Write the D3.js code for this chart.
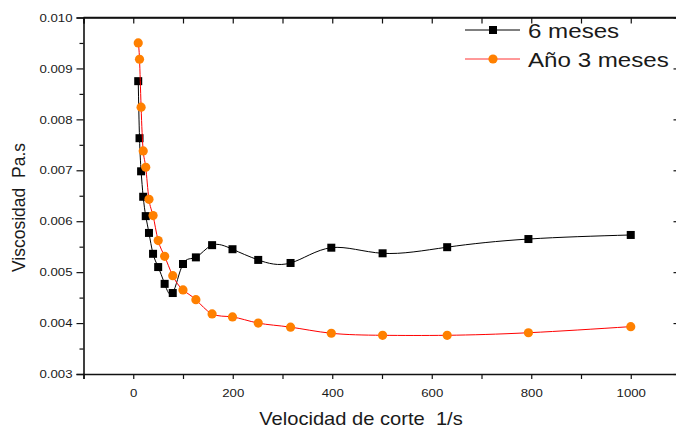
<!DOCTYPE html>
<html><head><meta charset="utf-8">
<script src="https://cdn.jsdelivr.net/npm/d3@7"></script>
<style>body{margin:0;background:#fff}svg{display:block}text{font-family:"Liberation Sans",Arial,sans-serif;fill:#1a1a1a;white-space:pre}</style>
</head><body>
<script>
const shearRate = [10,12.6,15.8,20,25.1,31.6,39.8,50.1,63.1,79.4,100,125.9,158.5,199.5,251.2,316.2,398.1,501.2,631,794.3,1000];
const seis = [0.00875,0.00763,0.00698,0.00648,0.00610,0.00577,0.00536,0.00510,0.00477,0.00459,0.00516,0.00529,0.00553,0.00545,0.00524,0.00518,0.00548,0.00537,0.00549,0.00565,0.00573];
const anio3 = [0.00950,0.00918,0.00824,0.00738,0.00706,0.00643,0.00611,0.00562,0.00531,0.00493,0.00465,0.00446,0.00418,0.00412,0.00400,0.00392,0.00380,0.00376,0.00376,0.00381,0.00393];
const seriesNames = ["6 meses","Año 3 meses"];
const xTickLabels = [0,200,400,600,800,1000];
const xTicks = [-100,0,100,200,300,400,500,600,700,800,900,1000,1100];
const yTickLabels = [0.003,0.004,0.005,0.006,0.007,0.008,0.009,0.010];
const yMinorTicks = [0.0035,0.0045,0.0055,0.0065,0.0075,0.0085,0.0095];
const xTitle = "Velocidad de corte  1/s";
const yTitle = "Viscosidad  Pa.s";

const W=676,H=428, SX=1.15;
const L=83.5, R=680.5, T=17.5, B=374;
const svg=d3.select("body").append("svg").attr("width",W).attr("height",H);
const x=d3.scaleLinear().domain([-100,1100]).range([L,R]);
const y=d3.scaleLinear().domain([0.003,0.010]).range([B,T]);

function stretchTick(sel){
  sel.selectAll("text").each(function(){
    const t=d3.select(this); const tx=+t.attr("x")||0;
    t.attr("transform",`translate(${tx},0) scale(${SX},1) translate(${-tx},0)`);
  });
}
const fmtY=d3.format(".3f");
// left axis
const gl=svg.append("g").attr("transform",`translate(${L},0)`)
  .call(d3.axisLeft(y).tickValues(yTickLabels).tickSize(7).tickPadding(4).tickFormat(fmtY));
gl.call(g=>g.selectAll("text").attr("font-size",11.5).attr("font-family","Liberation Sans").style("fill","#1a1a1a"));
stretchTick(gl);
svg.append("g").attr("transform",`translate(${L},0)`)
  .call(d3.axisLeft(y).tickValues(yMinorTicks).tickSize(4).tickFormat(""))
  .call(g=>g.select(".domain").remove());
// right axis
svg.append("g").attr("transform",`translate(${R},0)`)
  .call(d3.axisLeft(y).tickValues(yTickLabels).tickSize(7).tickFormat(""))
  .call(g=>g.select(".domain").remove());
// bottom axis
const gb=svg.append("g").attr("transform",`translate(0,${B})`)
  .call(d3.axisBottom(x).tickValues(xTicks).tickSize(5).tickPadding(10)
    .tickFormat(d=>xTickLabels.includes(d)?String(d):""));
gb.selectAll("text").attr("font-size",11.5).attr("font-family","Liberation Sans").style("fill","#1a1a1a");
stretchTick(gb);
// top axis
svg.append("g").attr("transform",`translate(0,${T})`)
  .call(d3.axisBottom(x).tickValues(xTicks).tickSize(6).tickFormat(""));
svg.selectAll(".domain").attr("stroke","#111").attr("stroke-width",1.6);
svg.selectAll(".tick line").attr("stroke","#111").attr("stroke-width",1.2);
svg.append("line").attr("x1",L).attr("x2",R).attr("y1",T).attr("y2",T).attr("stroke","#111").attr("stroke-width",1.6);
svg.append("line").attr("x1",R).attr("x2",R).attr("y1",T).attr("y2",B).attr("stroke","#111").attr("stroke-width",1.6);

// titles
svg.append("text").attr("text-anchor","middle").attr("font-size",17.5)
  .attr("transform",`translate(361,425) scale(${SX},1)`).text(xTitle);
svg.append("text").attr("text-anchor","middle").attr("font-size",17.5)
  .attr("transform",`translate(25,207.5) rotate(-90)`).text(yTitle);

// lines
const d1=shearRate.map((v,i)=>[v,seis[i]]);
const d2=shearRate.map((v,i)=>[v,anio3[i]]);
const line=d3.line().x(d=>x(d[0])).y(d=>y(d[1])).curve(d3.curveNatural);
svg.append("path").datum(d1).attr("d",line).attr("fill","none").attr("stroke","#000").attr("stroke-width",1);
svg.append("g").selectAll("rect").data(d1).join("rect")
  .attr("x",d=>x(d[0])-4).attr("y",d=>y(d[1])-4).attr("width",8).attr("height",8).attr("fill","#000");
svg.append("path").datum(d2).attr("d",line).attr("fill","none").attr("stroke","#ff0000").attr("stroke-width",1);
svg.append("g").selectAll("circle").data(d2).join("circle")
  .attr("cx",d=>x(d[0])).attr("cy",d=>y(d[1])).attr("r",4.6).attr("fill","#ff8000");

// legend
const lg=svg.append("g");
[0,1].forEach(i=>{
  const yy=[30,59][i];
  lg.append("line").attr("x1",465).attr("x2",520).attr("y1",yy).attr("y2",yy)
    .attr("stroke",i?"#ff3333":"#000").attr("stroke-width",1);
  if(i===0) lg.append("rect").attr("x",489).attr("y",yy-4).attr("width",8).attr("height",8).attr("fill","#000");
  else lg.append("circle").attr("cx",493).attr("cy",yy).attr("r",4.6).attr("fill","#ff8000");
  lg.append("text").attr("font-size",21).attr("transform",`translate(528,${yy+8}) scale(${SX},1)`).text(seriesNames[i]);
});
</script>
</body></html>
